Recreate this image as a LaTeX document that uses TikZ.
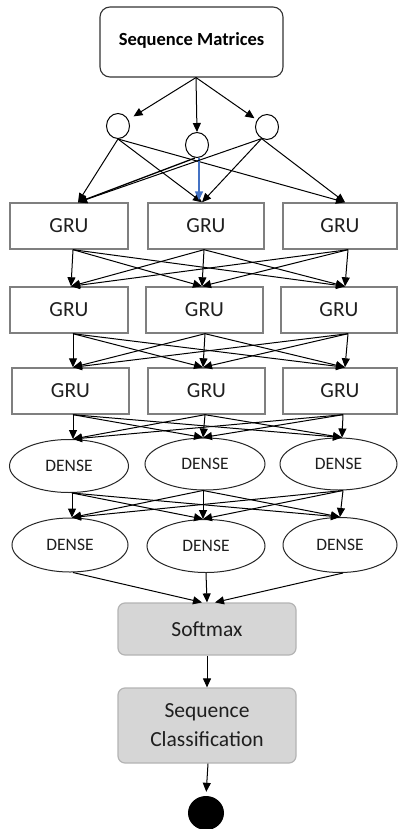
\documentclass[tikz,border=0pt]{standalone}
\usepackage{fontspec}
\setmainfont{Carlito}
\usetikzlibrary{arrows.meta,shapes.geometric,calc}
\definecolor{boxgray}{HTML}{7F7F7F}
\definecolor{softfill}{HTML}{D6D6D6}
\definecolor{softline}{HTML}{B4B4B4}
\definecolor{txt}{HTML}{1F1F1F}
\definecolor{bluearr}{HTML}{4472C4}
\tikzset{
  arr/.style={line width=1pt,-{Triangle[length=9pt,width=8pt]}},
  grubox/.style={draw=boxgray,line width=1.4pt,rectangle,minimum height=46pt,inner sep=0pt,text=txt,font=\fontsize{21.5}{25}\selectfont},
  densenode/.style={draw=black!85,line width=1pt,ellipse,inner sep=0pt,text=txt,font=\fontsize{17.5}{21}\selectfont},
  smallcirc/.style={draw=black,line width=1pt,ellipse,inner sep=0pt,minimum width=23pt,minimum height=25pt},
  graybox/.style={draw=softline,line width=1.2pt,fill=softfill,rounded corners=7pt,minimum width=178pt,inner sep=0pt,text=txt,align=center},
}
\begin{document}
\begin{tikzpicture}[x=1pt,y=-1pt]
\useasboundingbox (0,0) rectangle (397,829);

% top box
\node[draw=black!80,line width=1.1pt,rounded corners=10pt,minimum width=183pt,minimum height=70pt,inner sep=0pt,font=\bfseries\fontsize{18.5}{22}\selectfont] (sm) at (191.5,42) {\raisebox{5pt}{Sequence Matrices}};

% circles
\node[smallcirc] (c1) at (118,126) {};
\node[smallcirc] (c2) at (197,145) {};
\node[smallcirc] (c3) at (267,127) {};

\draw[arr,shorten >=6pt] ($(sm.south)+(4.5,0)$) -- (c1);
\draw[arr] ($(sm.south)+(4.5,0)$) -- (c2.north);
\draw[arr,shorten >=3pt] ($(sm.south)+(4.5,0)$) -- (c3);

% GRU rows
\node[grubox,minimum width=118pt] (g11) at (69,226) {GRU};
\node[grubox,minimum width=116pt] (g12) at (206,226) {GRU};
\node[grubox,minimum width=114pt] (g13) at (340,226) {GRU};
\node[grubox,minimum width=118pt] (g21) at (69,310) {GRU};
\node[grubox,minimum width=117pt] (g22) at (204.5,310) {GRU};
\node[grubox,minimum width=116pt] (g23) at (339,310) {GRU};
\node[grubox,minimum width=117pt] (g31) at (70.5,391) {GRU};
\node[grubox,minimum width=117pt] (g32) at (206.5,391) {GRU};
\node[grubox,minimum width=114pt] (g33) at (340,391) {GRU};

% circles to GRU row 1
\coordinate (c1o) at (c1.south);
\coordinate (c2o) at ($(c2.south)+(-2,0)$);
\coordinate (c3o) at (c3.245);
\coordinate (g11i) at ($(g11.north)+(9,0)$);
\coordinate (g12i) at ($(g12.north)+(-4,0)$);
\coordinate (g13i) at ($(g13.north)+(5,0)$);
\draw[arr] (c1o) -- (g11i);
\draw[arr] (c1o) -- (g12i);
\draw[arr] (c1o) -- (g13i);
\draw[arr,line width=1.3pt] (c2o) -- (g11i);
\draw[line width=1.4pt,draw=bluearr,-{Triangle[length=9pt,width=8pt,fill=bluearr]}] ($(c2.south)+(2,0)$) -- ($(g12.north)+(-7,-2)$);
\draw[arr] (c3o) -- (g11i);
\draw[arr] (c3o) -- (g12i);
\draw[arr] (c3o) -- (g13i);

% row 1 -> row 2
\coordinate (g11o) at ($(g11.south)+(4,0)$);
\coordinate (g12o) at ($(g12.south)+(-2,0)$);
\coordinate (g13o) at ($(g13.south)+(8,0)$);
\coordinate (g21i) at ($(g21.north)+(2,0)$);
\coordinate (g22i) at ($(g22.north)+(-2.5,0)$);
\coordinate (g23i) at ($(g23.north)+(6,0)$);
\foreach \s in {g11o,g12o,g13o}{\foreach \t in {g21i,g22i,g23i}{\draw[arr] (\s) -- (\t);}}

% row 2 -> row 3
\coordinate (g21o) at ($(g21.south)+(4,0)$);
\coordinate (g22o) at ($(g22.south)+(0.5,0)$);
\coordinate (g23o) at ($(g23.south)+(9,0)$);
\coordinate (g31i) at ($(g31.north)+(2.5,0)$);
\coordinate (g32i) at ($(g32.north)+(-3.5,0)$);
\coordinate (g33i) at ($(g33.north)+(5,0)$);
\foreach \s in {g21o,g22o,g23o}{\foreach \t in {g31i,g32i,g33i}{\draw[arr] (\s) -- (\t);}}

% dense rows
\node[densenode,minimum width=119pt,minimum height=53pt] (d11) at (69,466) {DENSE};
\node[densenode,minimum width=120pt,minimum height=52pt] (d12) at (205,464) {DENSE};
\node[densenode,minimum width=117pt,minimum height=52pt] (d13) at (338.5,464) {DENSE};
\node[densenode,minimum width=116pt,minimum height=54pt] (d21) at (70,545) {DENSE};
\node[densenode,minimum width=118pt,minimum height=53pt] (d22) at (206,546) {DENSE};
\node[densenode,minimum width=114pt,minimum height=55pt] (d23) at (340,545) {DENSE};

% row 3 -> dense 1
\coordinate (g31o) at ($(g31.south)+(2.5,0)$);
\coordinate (g32o) at ($(g32.south)+(-1.5,0)$);
\coordinate (g33o) at ($(g33.south)+(3,0)$);
\coordinate (d11i) at ($(d11.north)+(4,0)$);
\coordinate (d12i) at ($(d12.north)+(-2,0)$);
\coordinate (d13i) at ($(d13.north)+(3.5,0)$);
\foreach \s in {g31o,g32o,g33o}{\foreach \t in {d11i,d12i,d13i}{\draw[arr] (\s) -- (\t);}}

% dense 1 -> dense 2
\coordinate (d11o) at ($(d11.south)+(3,0)$);
\coordinate (d12o) at ($(d12.south)+(-2,0)$);
\coordinate (d13o) at ($(d13.south)+(4.5,0)$);
\coordinate (d21i) at ($(d21.north)+(2,0)$);
\coordinate (d22i) at ($(d22.north)+(-3,0)$);
\coordinate (d23i) at ($(d23.north)+(0,0)$);
\foreach \s in {d11o,d12o,d13o}{\foreach \t in {d21i,d22i,d23i}{\draw[arr] (\s) -- (\t);}}

% softmax and classification
\node[graybox,minimum height=52pt,font=\fontsize{21.5}{25}\selectfont] (soft) at (207,629) {Softmax};
\node[graybox,minimum height=75pt,font=\fontsize{21.5}{29}\selectfont] (cls) at (207,725.5) {Sequence\\Classification};
\node[ellipse,fill=black,minimum width=36pt,minimum height=34pt,inner sep=0pt] (end) at (206,813) {};

\draw[arr] ($(d21.south)+(3,0)$) -- ($(soft.north)+(-5,0)$);
\draw[arr] (d22.south) -- (soft.north);
\draw[arr] ($(d23.south)+(3,0)$) -- ($(soft.north)+(8,0)$);
\draw[arr] (soft.south) -- (cls.north);
\draw[arr,shorten >=4pt] ($(cls.south)+(1,0)$) -- (end.north);
\end{tikzpicture}
\end{document}
